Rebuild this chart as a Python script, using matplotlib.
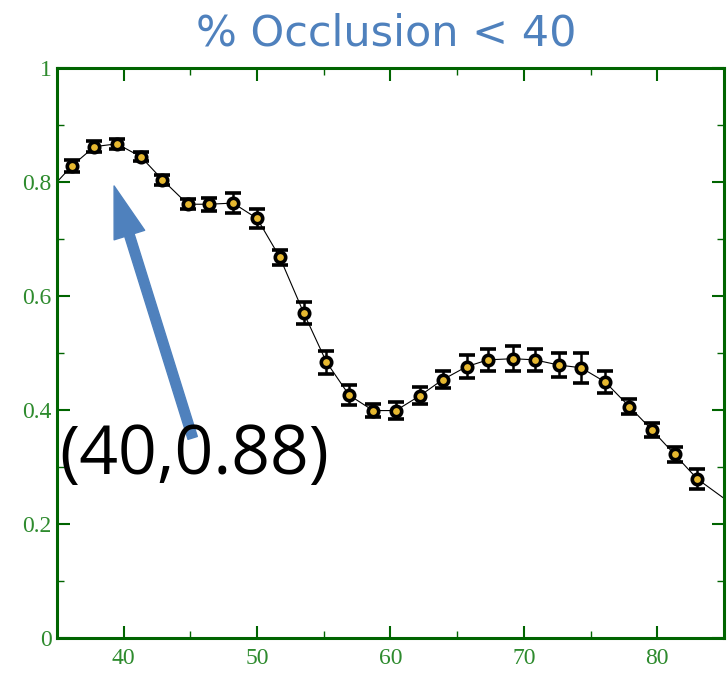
import matplotlib
matplotlib.use("Agg")
import matplotlib.pyplot as plt
from matplotlib.ticker import MultipleLocator

# occlusion curve, values
occl_x = [36.1, 37.8, 39.5, 41.3, 42.9, 44.8, 46.4, 48.2, 50.0, 51.7,
          53.5, 55.2, 56.9, 58.7, 60.4, 62.2, 63.9, 65.7, 67.3, 69.2,
          70.8, 72.6, 74.3, 76.1, 77.9, 79.6, 81.3, 83.0]
occl_y = [0.828, 0.862, 0.867, 0.844, 0.804, 0.761, 0.761, 0.763, 0.736, 0.668,
          0.570, 0.484, 0.426, 0.399, 0.399, 0.425, 0.453, 0.476, 0.488, 0.490,
          0.488, 0.479, 0.474, 0.449, 0.406, 0.365, 0.322, 0.279]
occl_err = [0.011, 0.010, 0.009, 0.008, 0.009, 0.009, 0.011, 0.017, 0.017, 0.013,
            0.019, 0.020, 0.017, 0.012, 0.015, 0.015, 0.015, 0.020, 0.019, 0.022,
            0.019, 0.021, 0.026, 0.019, 0.013, 0.013, 0.013, 0.018]

# where the fitted curve leaves the frame
curve_edge_x = [35.0, 85.0]
curve_edge_y = [0.800, 0.245]

x_ticks = [40, 50, 60, 70, 80]
y_ticks = [0, 0.2, 0.4, 0.6, 0.8, 1.0]
y_tick_labels = ["0", "0.2", "0.4", "0.6", "0.8", "1"]

TITLE = "% Occlusion < 40"
NOTE = "(40,0.88)"

GREEN = "#006400"
LABEL_GREEN = "#2e8b2e"
BLUE = "#4f81bd"


def main():
    fig = plt.figure(figsize=(7.28, 6.74), dpi=100)
    ax = fig.add_axes([57 / 728, 1 - 638 / 674, 667 / 728, 570 / 674])

    curve_x = [curve_edge_x[0]] + occl_x + [curve_edge_x[1]]
    curve_y = [curve_edge_y[0]] + occl_y + [curve_edge_y[1]]
    ax.plot(curve_x, curve_y, color="black", linewidth=0.8, zorder=2)

    ax.errorbar(
        occl_x,
        occl_y,
        yerr=occl_err,
        fmt="o",
        color="black",
        ecolor="black",
        elinewidth=1.8,
        capsize=6,
        capthick=2.4,
        markersize=7.5,
        markerfacecolor="#e6b830",
        markeredgecolor="black",
        markeredgewidth=2.6,
        zorder=3,
    )

    ax.set_xlim(35, 85)
    ax.set_ylim(0, 1)
    ax.set_xticks(x_ticks)
    ax.set_yticks(y_ticks)
    ax.set_yticklabels(y_tick_labels)
    ax.xaxis.set_minor_locator(MultipleLocator(5))
    ax.yaxis.set_minor_locator(MultipleLocator(0.1))

    for side in ["left", "right", "top", "bottom"]:
        ax.spines[side].set_color(GREEN)
        ax.spines[side].set_linewidth(2.2)

    ax.tick_params(which="both", direction="in", top=True, right=True,
                   color=GREEN)
    ax.tick_params(which="major", length=9, width=1.5)
    ax.tick_params(which="minor", length=5, width=1.0)
    ax.tick_params(axis="y", pad=4)
    ax.tick_params(axis="x", pad=7)
    for lab in ax.get_xticklabels() + ax.get_yticklabels():
        lab.set_fontfamily("Liberation Serif")
        lab.set_fontsize(17)
        lab.set_color(LABEL_GREEN)

    fig.text(386 / 728, 1 - 33 / 674, TITLE, ha="center", va="center",
             fontsize=31, color=BLUE, family="DejaVu Sans")

    # arrow pointing at the peak
    ax.annotate(
        "",
        xy=(39.28, 0.793),
        xytext=(45.17, 0.351),
        arrowprops=dict(width=7, headwidth=23, headlength=37,
                        facecolor=BLUE, edgecolor=BLUE, shrink=0),
        zorder=4,
    )
    ax.text(35.2, 0.318, NOTE, ha="left", va="center", fontsize=49,
            family="Open Sans", color="black", zorder=5, clip_on=False)

    fig.savefig("out.png", dpi=100)
    plt.close(fig)


if __name__ == "__main__":
    main()
